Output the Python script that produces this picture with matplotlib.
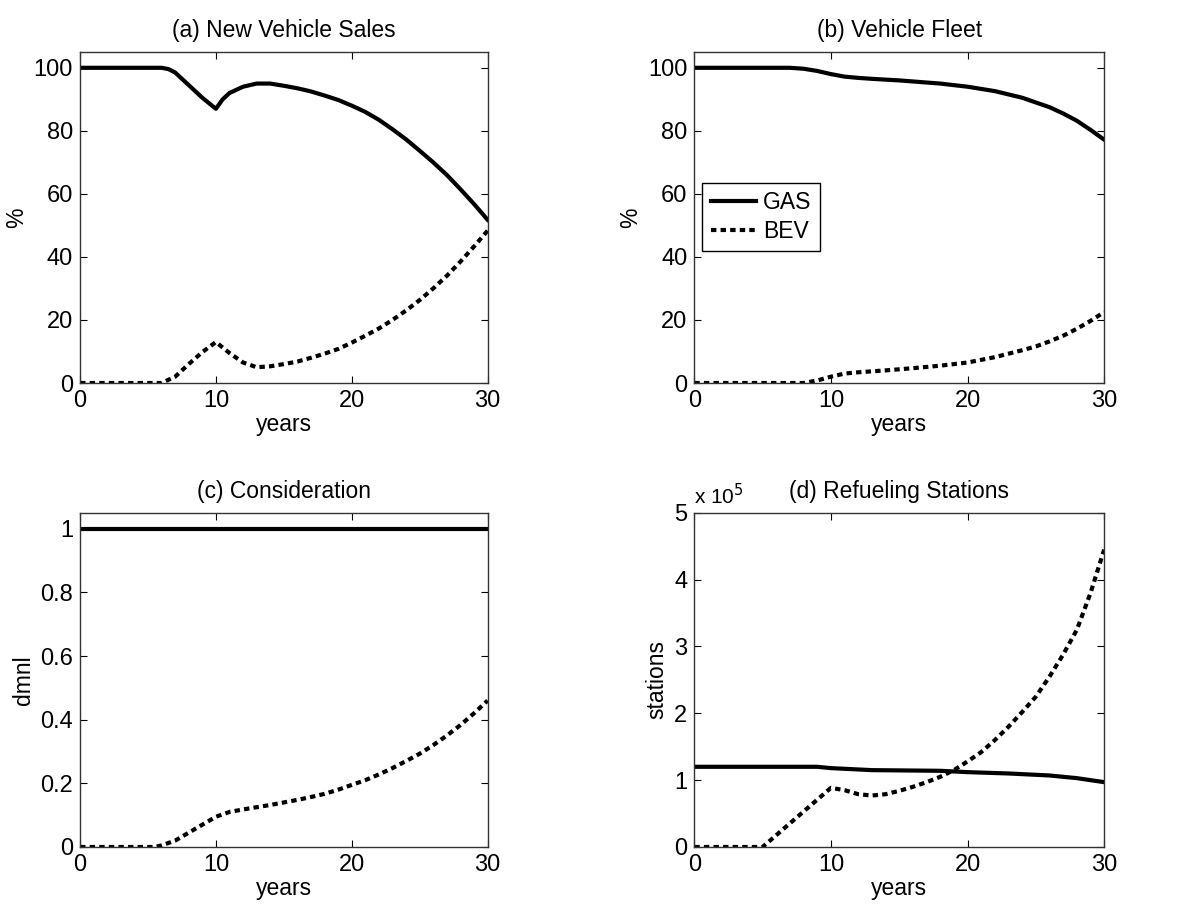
import numpy as np
import matplotlib
matplotlib.use('Agg')
import matplotlib.pyplot as plt
from matplotlib.ticker import FuncFormatter

plt.rcParams['font.family'] = ['Liberation Sans', 'DejaVu Sans']
plt.rcParams['font.size'] = 16.5

# (a) New vehicle sales, %
years_a = [0, 6, 6.5, 7, 8, 9, 10, 10.5, 11, 12, 13, 14, 15, 16, 17, 18, 19, 20,
           21, 22, 23, 24, 25, 26, 27, 28, 29, 30]
gas_a = [100, 100, 99.6, 98.5, 94.5, 90.5, 87, 90, 92, 94, 95, 95, 94.3, 93.5, 92.5,
         91.2, 89.8, 88, 86, 83.5, 80.5, 77.3, 73.7, 70, 66, 61.5, 56.8, 51.8]
years_a_bev = [0, 6, 7, 8, 9, 10, 11, 12, 13, 14, 15, 16, 17, 18, 19, 20, 21, 22,
               23, 24, 25, 26, 27, 28, 29, 30]
bev_a = [0, 0, 2, 6, 9.8, 13, 9.5, 6.5, 5, 5.3, 6, 6.8, 8, 9.3, 10.8, 12.8, 15,
         17.3, 20, 23, 26.3, 30, 34, 38.5, 43.3, 48.3]

# (b) Vehicle fleet, %
years_b = [0, 7, 8, 9, 10, 11, 12, 13, 15, 18, 20, 22, 24, 25, 26, 27, 28, 29, 30]
gas_b = [100, 100, 99.7, 99, 98, 97.2, 96.8, 96.5, 96, 95, 94, 92.6, 90.5, 89,
         87.5, 85.5, 83.2, 80.3, 77.2]
years_b_bev = [0, 8, 9, 10, 11, 12, 14, 16, 18, 20, 22, 24, 25, 26, 27, 28, 29, 30]
bev_b = [0, 0, 0.8, 2, 3, 3.4, 4, 4.7, 5.5, 6.5, 8.2, 10.4, 11.6, 13.2, 15, 17.2,
         19.7, 22.5]

# (c) Consideration, dmnl
years_c = [0, 30]
gas_c = [1, 1]
years_c_bev = [0, 5.5, 6, 7, 8, 9, 10, 11, 12, 13, 14, 15, 16, 17, 18, 19, 20, 21,
               22, 23, 24, 25, 26, 27, 28, 29, 30]
bev_c = [0, 0, 0.005, 0.02, 0.045, 0.07, 0.095, 0.11, 0.118, 0.125, 0.132, 0.14,
         0.148, 0.157, 0.167, 0.18, 0.195, 0.21, 0.228, 0.248, 0.27, 0.293, 0.32,
         0.35, 0.383, 0.42, 0.46]

# (d) Refueling stations (units of 1e5)
years_d = [0, 9, 10, 13, 18, 20, 23, 26, 28, 30]
gas_d = [1.2, 1.2, 1.18, 1.15, 1.14, 1.12, 1.1, 1.07, 1.03, 0.97]
years_d_bev = [0, 5, 10, 11, 12, 13, 14, 15, 16, 17, 18, 19, 20, 21, 22, 23, 24, 25,
               26, 27, 28, 29, 30]
bev_d = [0, 0, 0.885, 0.85, 0.79, 0.77, 0.79, 0.84, 0.9, 0.97, 1.05, 1.15, 1.28,
         1.42, 1.6, 1.8, 2.02, 2.25, 2.55, 2.88, 3.25, 3.8, 4.45]

fig = plt.figure(figsize=(11.95, 9.13), dpi=100)
ax_a = fig.add_axes([0.067, 0.5805, 0.341, 0.3625])
ax_b = fig.add_axes([0.581, 0.5805, 0.343, 0.3625])
ax_c = fig.add_axes([0.067, 0.0723, 0.341, 0.366])
ax_d = fig.add_axes([0.581, 0.0723, 0.343, 0.366])

dot = (0, (1.3, 1.0))
lw = 3

def style(ax, title, ylabel):
    ax.set_xlim(0, 30)
    ax.set_xticks([0, 10, 20, 30])
    ax.set_xlabel('years', labelpad=1)
    ax.set_ylabel(ylabel)
    ax.set_title(title, pad=11, fontsize=16.5)
    ax.tick_params(direction='in', top=True, right=True, length=5, width=0.8,
                   pad=5, labelsize=17)
    for s in ax.spines.values():
        s.set_linewidth(1.0)
        s.set_color('#333333')

ax_a.plot(years_a, gas_a, color='black', lw=lw)
ax_a.plot(years_a_bev, bev_a, color='black', lw=lw, linestyle=dot)
ax_a.set_ylim(0, 105)
ax_a.set_yticks([0, 20, 40, 60, 80, 100])
style(ax_a, '(a) New Vehicle Sales', '%')

ax_b.plot(years_b, gas_b, color='black', lw=lw, label='GAS')
ax_b.plot(years_b_bev, bev_b, color='black', lw=lw, linestyle=dot, label='BEV')
ax_b.set_ylim(0, 105)
ax_b.set_yticks([0, 20, 40, 60, 80, 100])
style(ax_b, '(b) Vehicle Fleet', '%')
leg = ax_b.legend(loc='upper left', bbox_to_anchor=(0.02, 0.605), borderaxespad=0,
                  fancybox=False, edgecolor='black', framealpha=1, fontsize=16.5,
                  handlelength=2.0, borderpad=0.35, labelspacing=0.25, handletextpad=0.3)
leg.get_frame().set_linewidth(1.0)

ax_c.plot(years_c, gas_c, color='black', lw=lw)
ax_c.plot(years_c_bev, bev_c, color='black', lw=lw, linestyle=dot)
ax_c.set_ylim(0, 1.05)
ax_c.set_yticks([0, 0.2, 0.4, 0.6, 0.8, 1])
ax_c.yaxis.set_major_formatter(FuncFormatter(lambda v, p: f'{v:g}'))
style(ax_c, '(c) Consideration', 'dmnl')

ax_d.plot(years_d, np.array(gas_d) * 1e5, color='black', lw=lw)
ax_d.plot(years_d_bev, np.array(bev_d) * 1e5, color='black', lw=lw, linestyle=dot)
ax_d.set_ylim(0, 5e5)
ax_d.set_yticks([0, 1e5, 2e5, 3e5, 4e5, 5e5])
ax_d.yaxis.set_major_formatter(FuncFormatter(lambda v, p: f'{v / 1e5:g}'))
style(ax_d, '(d) Refueling Stations', 'stations')
ax_d.text(0.0, 1.015, r'x 10$^{5}$', transform=ax_d.transAxes, fontsize=15,
          ha='left', va='bottom')

fig.savefig('out.png', dpi=100)
